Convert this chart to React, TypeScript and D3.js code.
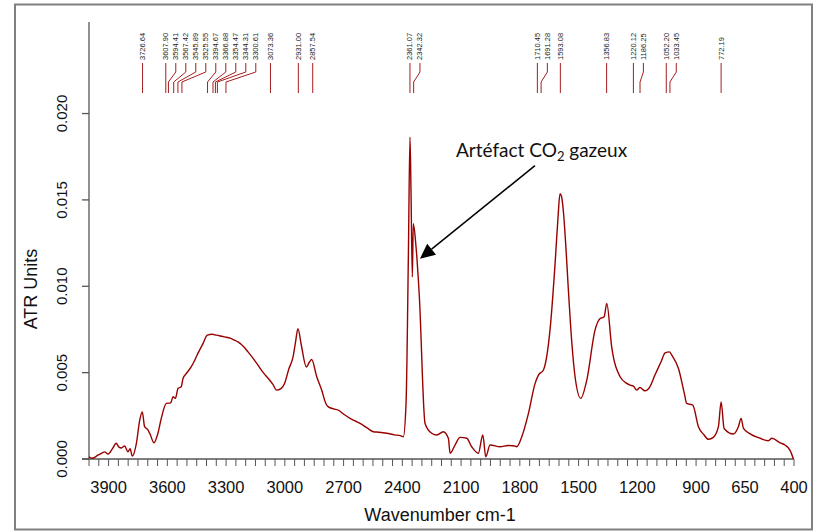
import React from 'react';
import * as d3 from 'd3';

// spectrum (wavenumber cm-1, ATR units)
const wavenumbers = [
  4000, 3985, 3971, 3955, 3937, 3920, 3903, 3880, 3861, 3848, 3835, 3818, 3801, 3790, 3779, 3758,
  3741, 3728, 3716, 3700, 3690, 3668, 3648, 3631, 3605, 3583, 3571, 3559, 3545, 3529, 3520, 3503,
  3480, 3460, 3440, 3418, 3396, 3370, 3350, 3307, 3280, 3260, 3239, 3210, 3188, 3160, 3137, 3110,
  3077, 3060, 3043, 3018, 3001, 2980, 2958, 2945, 2933, 2916, 2890, 2875, 2863, 2837, 2812, 2790,
  2778, 2750, 2727, 2700, 2667, 2640, 2616, 2580, 2548, 2520, 2480, 2440, 2410, 2395, 2381, 2369,
  2361, 2356, 2349, 2344, 2330, 2313, 2284, 2250, 2224, 2191, 2165, 2156, 2131, 2105, 2071, 2046,
  2012, 1989, 1974, 1952, 1901, 1860, 1833, 1816, 1790, 1756, 1722, 1705, 1680, 1646, 1620, 1605,
  1595, 1587, 1578, 1565, 1552, 1535, 1518, 1489, 1458, 1416, 1390, 1370, 1356, 1331, 1288, 1254,
  1237, 1220, 1203, 1187, 1161, 1136, 1110, 1080, 1058, 1036, 1024, 990, 960, 948, 917, 888,
  860, 837, 812, 786, 772, 757, 710, 684, 670, 658, 624, 573, 531, 513, 471, 446, 420, 403
];
const absorbance = [
  0.00013, 0.00005, 0.0001, 0.00022, 0.00033, 0.00041, 0.00029, 0.0006, 0.00091, 0.0007, 0.00064, 0.00075, 0.00042, 0.0006, 0.00017, 0.00091,
  0.00225, 0.00273, 0.00187, 0.0017, 0.00149, 0.00094, 0.00149, 0.00235, 0.00322, 0.00325, 0.0036, 0.00351, 0.00409, 0.00418, 0.00466, 0.00495,
  0.0053, 0.00572, 0.0062, 0.00668, 0.00717, 0.00722, 0.00717, 0.00707, 0.007, 0.0069, 0.00678, 0.0065, 0.0062, 0.0058, 0.00543, 0.005,
  0.00456, 0.0043, 0.00399, 0.00409, 0.00438, 0.0052, 0.00591, 0.0068, 0.00755, 0.0066, 0.00533, 0.0056, 0.00576, 0.00476, 0.00399, 0.0032,
  0.00302, 0.0029, 0.00283, 0.0026, 0.00235, 0.0022, 0.00206, 0.0018, 0.00158, 0.00155, 0.00149, 0.0014, 0.00135, 0.00129, 0.00322, 0.01189,
  0.01863, 0.01574, 0.01054, 0.01362, 0.01227, 0.00938, 0.00206, 0.00149, 0.00139, 0.00158, 0.0012, 0.00033, 0.00081, 0.00125, 0.0012, 0.00071,
  0.00033, 0.00139, 0.00013, 0.00081, 0.00071, 0.00078, 0.00077, 0.00071, 0.00129, 0.00264, 0.00438, 0.00486, 0.00514, 0.00746, 0.01131, 0.0140,
  0.01536, 0.0152, 0.01439, 0.0123, 0.00977, 0.0068, 0.00476, 0.00351, 0.00457, 0.00746, 0.00813, 0.00822, 0.009, 0.00649, 0.00476, 0.00438,
  0.00428, 0.00422, 0.00399, 0.00414, 0.00395, 0.00418, 0.00486, 0.0056, 0.00614, 0.0062, 0.00601, 0.00524, 0.0038, 0.00322, 0.00312, 0.00187,
  0.0014, 0.00114, 0.00125, 0.00187, 0.00331, 0.00177, 0.00145, 0.00187, 0.00235, 0.00177, 0.00145, 0.0012, 0.00106, 0.0012, 0.00094, 0.00081, 0.0005, 0
];

const peaks = [
  3726.64, 3607.9, 3594.41, 3567.42, 3545.89, 3525.55, 3394.67, 3366.88, 3354.47, 3344.31, 3300.61,
  3073.36, 2931.0, 2857.54, 2361.07, 2342.32, 1710.45, 1691.28, 1593.08, 1356.83, 1220.12, 1186.25,
  1052.2, 1033.45, 772.19
];

const xTickLabels = [3900, 3600, 3300, 3000, 2700, 2400, 2100, 1800, 1500, 1200, 900, 650, 400];
const yTickLabels = [0, 0.005, 0.01, 0.015, 0.02];

const W = 815;
const H = 531;
const FONT = 'Liberation Sans, Arial, sans-serif';
const RED = '#990000';

const App = () => {
  const x = d3.scaleLinear().domain([4000, 400]).range([89, 794]);
  const y = d3.scaleLinear().domain([0, 0.0253]).range([459, 22]);

  const line = d3
    .line<number>()
    .x((_, i) => x(wavenumbers[i]))
    .y((d) => y(d))
    .curve(d3.curveMonotoneX);

  const minorTicks = d3.range(4000, 399, -50);

  // spread crowded peak labels, at least 10px apart
  let prev = -Infinity;
  const peakPos = peaks.map((p) => {
    const px = x(p);
    const lx = Math.max(px, prev + 10);
    prev = lx;
    return { p, px, lx };
  });

  const tipX = x(2310);
  const tipY = y(0.0116);
  const fromX = tipX + 115;
  const fromY = tipY - 93;
  const ang = Math.atan2(tipY - fromY, tipX - fromX);
  const ux = Math.cos(ang);
  const uy = Math.sin(ang);
  const hl = 15;
  const hw = 7;
  const bx = tipX - ux * hl;
  const by = tipY - uy * hl;

  return (
    <svg width={W} height={H} style={{ position: 'absolute', left: 0, top: 0, background: 'white' }}>
      <rect x={15} y={4.5} width={797} height={525} fill="none" stroke="#808080" strokeWidth={2} />

      {/* y axis */}
      <line x1={89} x2={89} y1={22} y2={459} stroke="#555" strokeWidth={1.3} />
      {yTickLabels.map((t) => (
        <g key={t}>
          <line x1={82} x2={89} y1={y(t)} y2={y(t)} stroke="#555" strokeWidth={1.3} />
          <text
            transform={`translate(67,${y(t)}) rotate(-90)`}
            textAnchor="middle"
            fontFamily={FONT}
            fontSize={15}
            fill="#111"
          >
            {t.toFixed(3)}
          </text>
        </g>
      ))}
      <text transform="translate(37,289) rotate(-90)" textAnchor="middle" fontFamily={FONT} fontSize={18} fill="#111">
        ATR Units
      </text>

      {/* x axis */}
      <line x1={82} x2={794} y1={459} y2={459} stroke="#555" strokeWidth={1.3} />
      {minorTicks.map((t) => (
        <line key={t} x1={x(t)} x2={x(t)} y1={459} y2={466} stroke="#555" strokeWidth={1} />
      ))}
      {xTickLabels.map((t) => (
        <text key={t} x={x(t)} y={493} textAnchor="middle" fontFamily={FONT} fontSize={16.5} fill="#111">
          {t}
        </text>
      ))}
      <text x={440} y={521} textAnchor="middle" fontFamily={FONT} fontSize={18} fill="#111">
        Wavenumber cm-1
      </text>

      {/* peak labels */}
      {peakPos.map(({ p, px, lx }) => (
        <g key={p}>
          <path
            d={`M${lx},63 L${lx},72 L${px},82 L${px},93`}
            fill="none"
            stroke="#a51e1e"
            strokeWidth={1}
          />
          <text
            transform={`translate(${lx + 2.5},60) rotate(-90)`}
            fontFamily={FONT}
            fontSize={7.5}
            fill="#222"
          >
            {p.toFixed(2)}
          </text>
        </g>
      ))}

      {/* spectrum */}
      <path d={line(absorbance) || ''} fill="none" stroke={RED} strokeWidth={1.4} strokeLinejoin="round" />

      {/* annotation */}
      <line x1={fromX} y1={fromY} x2={bx} y2={by} stroke="#000" strokeWidth={1.5} />
      <polygon
        points={`${tipX},${tipY} ${bx - uy * hw},${by + ux * hw} ${bx + uy * hw},${by - ux * hw}`}
        fill="#000"
      />
      <text x={456} y={157} fontFamily="Lato, Open Sans, sans-serif" fontSize={19} fill="#111">
        Artéfact CO<tspan fontSize={13} dy={4}>2</tspan>
        <tspan dy={-4}> gazeux</tspan>
      </text>
    </svg>
  );
};

export default App;
